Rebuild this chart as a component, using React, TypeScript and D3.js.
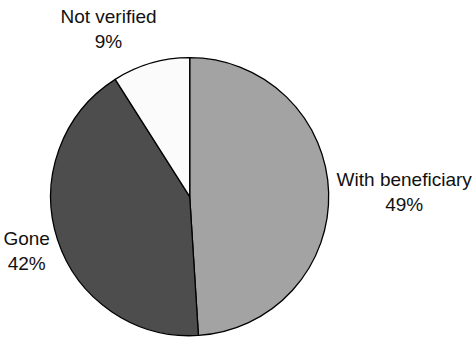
import { useMemo } from "react";
import * as d3 from "d3";

const categories = ["With beneficiary", "Gone", "Not verified"];
const shares = [49, 42, 9];
const sliceColors = ["#a3a3a3", "#4d4d4d", "#fbfbfb"];

const WIDTH = 474;
const HEIGHT = 338;
const FONT = "'Liberation Sans', Arial, sans-serif";
const FONT_SIZE = 19;
const LINE_GAP = 25;

type Slice = { label: string; value: number; color: string };

let ctx: CanvasRenderingContext2D | null = null;
function textWidth(s: string) {
  if (!ctx) ctx = document.createElement("canvas").getContext("2d");
  if (!ctx) return s.length * FONT_SIZE * 0.5;
  ctx.font = `${FONT_SIZE}px ${FONT}`;
  return ctx.measureText(s).width;
}

export default function App() {
  const cx = 189.7;
  const cy = 196.7;
  const radius = 139;

  const data: Slice[] = categories.map((label, i) => ({
    label,
    value: shares[i],
    color: sliceColors[i],
  }));

  const arcs = useMemo(
    () =>
      d3
        .pie<Slice>()
        .value((d) => d.value)
        .sort(null)(data),
    [],
  );

  const arcGen = d3.arc<d3.PieArcDatum<Slice>>().innerRadius(0).outerRadius(radius);
  const labelArc = d3
    .arc<d3.PieArcDatum<Slice>>()
    .innerRadius(radius + 8)
    .outerRadius(radius + 8);

  const clamp = (v: number) => Math.max(-1, Math.min(1, v));

  return (
    <svg
      width={WIDTH}
      height={HEIGHT}
      style={{ position: "fixed", left: 0, top: 0, background: "#fff" }}
    >
      <g transform={`translate(${cx},${cy})`}>
        {arcs.map((a, i) => (
          <path
            key={i}
            d={arcGen(a) ?? ""}
            fill={a.data.color}
            stroke="#000"
            strokeWidth={1.3}
            strokeLinejoin="round"
          />
        ))}
        {arcs.map((a, i) => {
          const [px, py] = labelArc.centroid(a);
          const mid = (a.startAngle + a.endAngle) / 2;
          const w = Math.max(textWidth(a.data.label), textWidth(`${a.data.value}%`));
          const h = 56;
          // push the label box outward from the anchor point on the ring
          const x = px + (w / 2) * clamp(Math.sin(mid) * 3);
          const y = py + (h / 2) * clamp(-Math.cos(mid));
          const b1 = y - LINE_GAP / 2 + 6.8;
          return (
            <g key={`l${i}`} fontFamily={FONT} fontSize={FONT_SIZE} fill="#111" textAnchor="middle">
              <text x={x} y={b1}>{a.data.label}</text>
              <text x={x} y={b1 + LINE_GAP}>{`${a.data.value}%`}</text>
            </g>
          );
        })}
      </g>
    </svg>
  );
}
